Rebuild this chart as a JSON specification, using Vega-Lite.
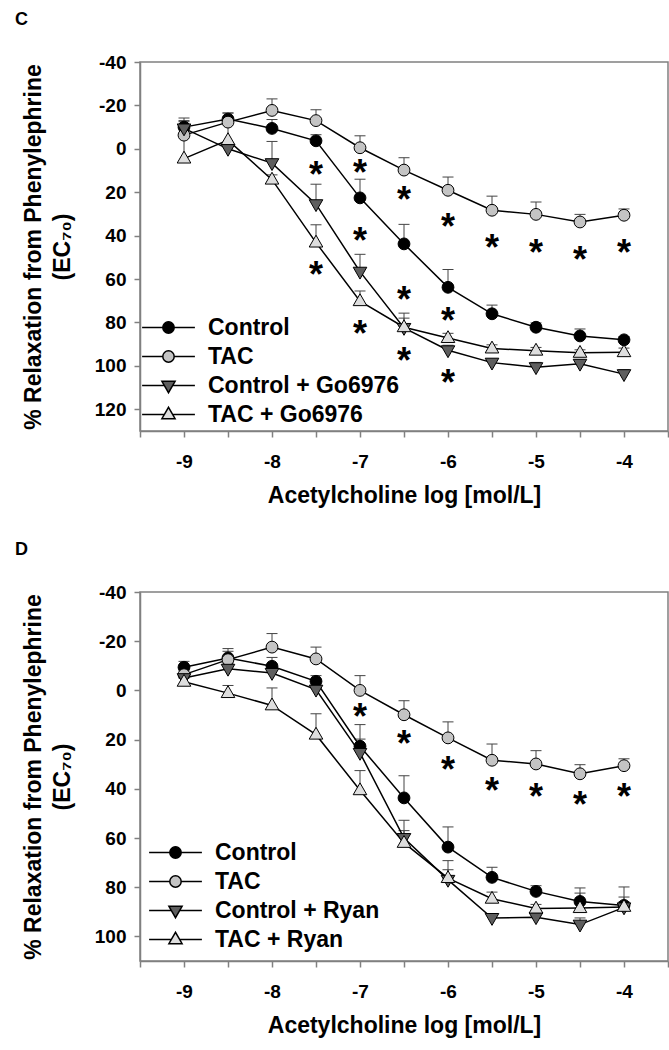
{
  "$schema": "https://vega.github.io/schema/vega-lite/v6.json",
  "padding": {"left": 14, "top": 10, "right": 0, "bottom": 0},
  "spacing": 32,
  "background": "white",
  "resolve": {
    "scale": {"shape": "independent", "fill": "independent", "stroke": "independent"},
    "legend": {"shape": "independent", "fill": "independent", "stroke": "independent"}
  },
  "datasets": {
    "c": [
      {"series": "Control", "x": -9, "y": -10, "err": -12.5},
      {"series": "Control", "x": -8.5, "y": -13.7, "err": -16.5},
      {"series": "Control", "x": -8, "y": -9.4, "err": -13.5},
      {"series": "Control", "x": -7.5, "y": -3.7, "err": -6.5},
      {"series": "Control", "x": -7, "y": 22.6, "err": 14},
      {"series": "Control", "x": -6.5, "y": 43.8, "err": 34.8},
      {"series": "Control", "x": -6, "y": 63.8, "err": 55.6},
      {"series": "Control", "x": -5.5, "y": 76, "err": 72},
      {"series": "Control", "x": -5, "y": 82.2, "err": 80.2},
      {"series": "Control", "x": -4.5, "y": 86.2, "err": 83},
      {"series": "Control", "x": -4, "y": 88, "err": 86.5},
      {"series": "TAC", "x": -9, "y": -6.3, "err": -9.5},
      {"series": "TAC", "x": -8.5, "y": -12.3, "err": -16.5},
      {"series": "TAC", "x": -8, "y": -17.7, "err": -23},
      {"series": "TAC", "x": -7.5, "y": -13, "err": -18},
      {"series": "TAC", "x": -7, "y": -0.5, "err": -6},
      {"series": "TAC", "x": -6.5, "y": 9.8, "err": 4.1},
      {"series": "TAC", "x": -6, "y": 19.1, "err": 13},
      {"series": "TAC", "x": -5.5, "y": 28.3, "err": 21.8},
      {"series": "TAC", "x": -5, "y": 30.2, "err": 24.5},
      {"series": "TAC", "x": -4.5, "y": 33.7, "err": 30.2},
      {"series": "TAC", "x": -4, "y": 30.6, "err": 27.7},
      {"series": "Control + Go6976", "x": -9, "y": -9.4, "err": -14.2},
      {"series": "Control + Go6976", "x": -8.5, "y": 0, "err": -1.5},
      {"series": "Control + Go6976", "x": -8, "y": 6.6, "err": -3.4},
      {"series": "Control + Go6976", "x": -7.5, "y": 25.5, "err": 16.3},
      {"series": "Control + Go6976", "x": -7, "y": 56.6, "err": 48.6},
      {"series": "Control + Go6976", "x": -6.5, "y": 82.5, "err": 78},
      {"series": "Control + Go6976", "x": -6, "y": 92.8, "err": 90.5},
      {"series": "Control + Go6976", "x": -5.5, "y": 98.5, "err": 96.9},
      {"series": "Control + Go6976", "x": -5, "y": 100.6, "err": 98.4},
      {"series": "Control + Go6976", "x": -4.5, "y": 99, "err": 97.2},
      {"series": "Control + Go6976", "x": -4, "y": 103.8, "err": 101.8},
      {"series": "TAC + Go6976", "x": -9, "y": 4.5, "err": -13},
      {"series": "TAC + Go6976", "x": -8.5, "y": -4, "err": -12},
      {"series": "TAC + Go6976", "x": -8, "y": 14.2, "err": 12},
      {"series": "TAC + Go6976", "x": -7.5, "y": 43.2, "err": 35},
      {"series": "TAC + Go6976", "x": -7, "y": 70.2, "err": 65.5},
      {"series": "TAC + Go6976", "x": -6.5, "y": 82.2, "err": 75.7},
      {"series": "TAC + Go6976", "x": -6, "y": 87.2, "err": 85},
      {"series": "TAC + Go6976", "x": -5.5, "y": 92, "err": 90.3},
      {"series": "TAC + Go6976", "x": -5, "y": 93, "err": 91.5},
      {"series": "TAC + Go6976", "x": -4.5, "y": 94, "err": 92.6},
      {"series": "TAC + Go6976", "x": -4, "y": 93.7, "err": 91.8}
    ],
    "cstar": [
      {"x": -7.5, "y": 10}, {"x": -7.5, "y": 56.4},
      {"x": -7, "y": 9.2}, {"x": -7, "y": 40.7}, {"x": -7, "y": 83.3},
      {"x": -6.5, "y": 21.8}, {"x": -6.5, "y": 67.7}, {"x": -6.5, "y": 95.7},
      {"x": -6, "y": 34.1}, {"x": -6, "y": 77.7}, {"x": -6, "y": 106},
      {"x": -5.5, "y": 43.8}, {"x": -5, "y": 46}, {"x": -4.5, "y": 49.5}, {"x": -4, "y": 46}
    ],
    "d": [
      {"series": "Control", "x": -9, "y": -9.4, "err": -11.8},
      {"series": "Control", "x": -8.5, "y": -13.2, "err": -15.9},
      {"series": "Control", "x": -8, "y": -9.8, "err": -13.4},
      {"series": "Control", "x": -7.5, "y": -3.7, "err": -6},
      {"series": "Control", "x": -7, "y": 22.7, "err": 13.9},
      {"series": "Control", "x": -6.5, "y": 43.7, "err": 34.7},
      {"series": "Control", "x": -6, "y": 63.7, "err": 55.5},
      {"series": "Control", "x": -5.5, "y": 76, "err": 71.9},
      {"series": "Control", "x": -5, "y": 81.7, "err": 79.4},
      {"series": "Control", "x": -4.5, "y": 85.8, "err": 80.3},
      {"series": "Control", "x": -4, "y": 87.4, "err": 79.9},
      {"series": "TAC", "x": -9, "y": -6.4, "err": -9},
      {"series": "TAC", "x": -8.5, "y": -12.5, "err": -17},
      {"series": "TAC", "x": -8, "y": -17.6, "err": -23.1},
      {"series": "TAC", "x": -7.5, "y": -12.8, "err": -17.6},
      {"series": "TAC", "x": -7, "y": 0, "err": -6},
      {"series": "TAC", "x": -6.5, "y": 9.9, "err": 4.2},
      {"series": "TAC", "x": -6, "y": 19.3, "err": 12.8},
      {"series": "TAC", "x": -5.5, "y": 28.4, "err": 21.8},
      {"series": "TAC", "x": -5, "y": 29.9, "err": 24.5},
      {"series": "TAC", "x": -4.5, "y": 33.9, "err": 30.2},
      {"series": "TAC", "x": -4, "y": 30.6, "err": 27.8},
      {"series": "Control + Ryan", "x": -9, "y": -5, "err": -7},
      {"series": "Control + Ryan", "x": -8.5, "y": -8.8, "err": -11},
      {"series": "Control + Ryan", "x": -8, "y": -7.1, "err": -9.5},
      {"series": "Control + Ryan", "x": -7.5, "y": -0.3, "err": -2},
      {"series": "Control + Ryan", "x": -7, "y": 25.4, "err": 19.8},
      {"series": "Control + Ryan", "x": -6.5, "y": 60, "err": 52.8},
      {"series": "Control + Ryan", "x": -6, "y": 77, "err": 72.9},
      {"series": "Control + Ryan", "x": -5.5, "y": 92.5, "err": 91},
      {"series": "Control + Ryan", "x": -5, "y": 92.2, "err": 90.5},
      {"series": "Control + Ryan", "x": -4.5, "y": 95.2, "err": 92.5},
      {"series": "Control + Ryan", "x": -4, "y": 88.2, "err": 86},
      {"series": "TAC + Ryan", "x": -9, "y": -3.5, "err": -5},
      {"series": "TAC + Ryan", "x": -8.5, "y": 1.1, "err": -2},
      {"series": "TAC + Ryan", "x": -8, "y": 6.1, "err": -1},
      {"series": "TAC + Ryan", "x": -7.5, "y": 18, "err": 9.5},
      {"series": "TAC + Ryan", "x": -7, "y": 40.6, "err": 32.6},
      {"series": "TAC + Ryan", "x": -6.5, "y": 62, "err": 57},
      {"series": "TAC + Ryan", "x": -6, "y": 76.3, "err": 69.2},
      {"series": "TAC + Ryan", "x": -5.5, "y": 84.7, "err": 82},
      {"series": "TAC + Ryan", "x": -5, "y": 88.7, "err": 87},
      {"series": "TAC + Ryan", "x": -4.5, "y": 88.5, "err": 82.4},
      {"series": "TAC + Ryan", "x": -4, "y": 88, "err": 84}
    ],
    "dstar": [
      {"x": -7, "y": 9.2}, {"x": -6.5, "y": 20.3}, {"x": -6, "y": 30.9},
      {"x": -5.5, "y": 39.4}, {"x": -5, "y": 41.7}, {"x": -4.5, "y": 44.8}, {"x": -4, "y": 41.7}
    ]
  },
  "config": {
    "font": "Liberation Sans",
    "view": {"stroke": "#808080", "strokeWidth": 1.5},
    "axis": {
      "domainColor": "#808080", "domainWidth": 1.5,
      "tickColor": "#808080", "tickWidth": 1.5, "tickSize": 6,
      "grid": false, "labelFlush": false, "labelOverlap": false,
      "labelFont": "Liberation Sans", "labelFontSize": 19, "labelFontWeight": "bold", "labelColor": "black",
      "titleFont": "Liberation Sans", "titleFontSize": 23, "titleFontWeight": "bold", "titleColor": "black"
    },
    "legend": {"symbolStrokeColor": "black", "symbolStrokeWidth": 1.5}
  },
  "vconcat": [
    {
      "title": {"text": "C", "anchor": "start", "frame": "group", "dx": -125, "offset": 10, "fontSize": 18, "fontWeight": "bold", "font": "Liberation Sans", "baseline": "alphabetic", "color": "black"},
      "width": 528,
      "height": 369,
      "encoding": {
        "x": {"field": "x", "type": "quantitative",
          "scale": {"domain": [-9.5, -3.5], "nice": false, "zero": false},
          "axis": {"values": [-9.5, -9, -8.5, -8, -7.5, -7, -6.5, -6, -5.5, -5, -4.5, -4, -3.5],
            "labelExpr": "datum.value % 1 === 0 ? '-' + abs(datum.value) : ''",
            "labelPadding": 15, "title": "Acetylcholine log [mol/L]", "titlePadding": 13}},
        "y": {"field": "y", "type": "quantitative",
          "scale": {"domain": [-40, 130], "reverse": true, "nice": false, "zero": false},
          "axis": {"values": [-40, -20, 0, 20, 40, 60, 80, 100, 120],
            "labelExpr": "datum.value < 0 ? '-' + abs(datum.value) : '' + datum.value",
            "labelPadding": 8, "title": ["% Relaxation from Phenylephrine", "(EC₇₀)"], "titlePadding": 20, "titleLineHeight": 29}}
      },
      "layer": [
        {"data": {"name": "c"}, "mark": {"type": "rule", "color": "#444444", "strokeWidth": 1}, "encoding": {"y2": {"field": "err"}}},
        {"data": {"name": "c"}, "mark": {"type": "point", "shape": "stroke", "size": 121, "stroke": "#444444", "strokeWidth": 1, "filled": false, "opacity": 1},
          "encoding": {"y": {"field": "err", "type": "quantitative",
            "scale": {"domain": [-40, 130], "reverse": true, "nice": false, "zero": false},
            "axis": {"values": [-40, -20, 0, 20, 40, 60, 80, 100, 120],
              "labelExpr": "datum.value < 0 ? '-' + abs(datum.value) : '' + datum.value",
              "labelPadding": 8, "title": ["% Relaxation from Phenylephrine", "(EC₇₀)"], "titlePadding": 20, "titleLineHeight": 29}}}},
        {"data": {"name": "c"}, "mark": {"type": "line", "color": "black", "strokeWidth": 1.5}, "encoding": {"detail": {"field": "series", "type": "nominal"}}},
        {"data": {"name": "cstar"}, "mark": {"type": "text", "text": "*", "font": "Liberation Sans", "fontSize": 36, "fontWeight": "bold", "color": "black", "baseline": "alphabetic", "align": "center", "dy": 16}},
        {"data": {"name": "c"}, "transform": [{"filter": "datum.series === 'Control'"}],
          "mark": {"type": "point", "shape": "circle", "filled": true, "fill": "#000000", "size": 140, "stroke": "black", "strokeWidth": 1, "opacity": 1}},
        {"data": {"name": "c"}, "transform": [{"filter": "datum.series === 'TAC'"}],
          "mark": {"type": "point", "shape": "circle", "filled": true, "fill": "#c4c4c4", "size": 140, "stroke": "black", "strokeWidth": 1, "opacity": 1}},
        {"data": {"name": "c"}, "transform": [{"filter": "datum.series === 'Control + Go6976'"}],
          "mark": {"type": "point", "shape": "M-1.15,-0.75L1.15,-0.75L0,1.25Z", "filled": true, "fill": "#5e5e5e", "size": 140, "stroke": "black", "strokeWidth": 1, "opacity": 1}},
        {"data": {"name": "c"}, "transform": [{"filter": "datum.series === 'TAC + Go6976'"}],
          "mark": {"type": "point", "shape": "M-1.15,0.75L1.15,0.75L0,-1.25Z", "filled": true, "fill": "#dedede", "size": 140, "stroke": "black", "strokeWidth": 1, "opacity": 1}},
        {"data": {"name": "c"}, "transform": [{"filter": "false"}],
          "mark": {"type": "point", "filled": true, "stroke": "black", "strokeWidth": 1.5, "opacity": 1},
          "encoding": {
            "shape": {"field": "series", "type": "nominal",
              "scale": {"domain": ["Control", "TAC", "Control + Go6976", "TAC + Go6976"],
                "range": [
                  "M-4.4,0L-0.95,0M0.95,0L4.4,0M0.95,0A0.95,0.95,0,1,1,-0.95,0A0.95,0.95,0,1,1,0.95,0Z",
                  "M-4.4,0L-0.95,0M0.95,0L4.4,0M0.95,0A0.95,0.95,0,1,1,-0.95,0A0.95,0.95,0,1,1,0.95,0Z",
                  "M-4.4,0L-0.69,0M0.69,0L4.4,0M-1.1,-0.7L1.1,-0.7L0,1.2Z",
                  "M-4.4,0L-0.69,0M0.69,0L4.4,0M-1.1,0.7L1.1,0.7L0,-1.2Z"]},
              "legend": {"orient": "none", "legendX": 17, "legendY": 254, "title": null, "symbolSize": 144,
                "labelFontSize": 23, "labelFontWeight": "bold", "labelFont": "Liberation Sans", "labelColor": "black",
                "labelOffset": 28, "rowPadding": 5, "symbolStrokeWidth": 1.5, "symbolStrokeColor": "black", "labelLimit": 0, "padding": 0}},
            "fill": {"field": "series", "type": "nominal",
              "scale": {"domain": ["Control", "TAC", "Control + Go6976", "TAC + Go6976"],
                "range": ["#000000", "#c4c4c4", "#5e5e5e", "#dedede"]},
              "legend": {"orient": "none", "legendX": 17, "legendY": 254, "title": null, "symbolSize": 144,
                "labelFontSize": 23, "labelFontWeight": "bold", "labelFont": "Liberation Sans", "labelColor": "black",
                "labelOffset": 28, "rowPadding": 5, "symbolStrokeWidth": 1.5, "symbolStrokeColor": "black", "labelLimit": 0, "padding": 0}},
            "stroke": {"field": "series", "type": "nominal",
              "scale": {"domain": ["Control", "TAC", "Control + Go6976", "TAC + Go6976"],
                "range": ["#000000", "#000000", "#000000", "#000000"]},
              "legend": {"orient": "none", "legendX": 17, "legendY": 254, "title": null, "symbolSize": 144,
                "labelFontSize": 23, "labelFontWeight": "bold", "labelFont": "Liberation Sans", "labelColor": "black",
                "labelOffset": 28, "rowPadding": 5, "symbolStrokeWidth": 1.5, "symbolStrokeColor": "black", "labelLimit": 0, "padding": 0}}
          }}
      ]
    },
    {
      "title": {"text": "D", "anchor": "start", "frame": "group", "dx": -125, "offset": 10, "fontSize": 18, "fontWeight": "bold", "font": "Liberation Sans", "baseline": "alphabetic", "color": "black"},
      "width": 528,
      "height": 369,
      "encoding": {
        "x": {"field": "x", "type": "quantitative",
          "scale": {"domain": [-9.5, -3.5], "nice": false, "zero": false},
          "axis": {"values": [-9.5, -9, -8.5, -8, -7.5, -7, -6.5, -6, -5.5, -5, -4.5, -4, -3.5],
            "labelExpr": "datum.value % 1 === 0 ? '-' + abs(datum.value) : ''",
            "labelPadding": 15, "title": "Acetylcholine log [mol/L]", "titlePadding": 13}},
        "y": {"field": "y", "type": "quantitative",
          "scale": {"domain": [-40, 110], "reverse": true, "nice": false, "zero": false},
          "axis": {"values": [-40, -20, 0, 20, 40, 60, 80, 100],
            "labelExpr": "datum.value < 0 ? '-' + abs(datum.value) : '' + datum.value",
            "labelPadding": 8, "title": ["% Relaxation from Phenylephrine", "(EC₇₀)"], "titlePadding": 20, "titleLineHeight": 29}}
      },
      "layer": [
        {"data": {"name": "d"}, "mark": {"type": "rule", "color": "#444444", "strokeWidth": 1}, "encoding": {"y2": {"field": "err"}}},
        {"data": {"name": "d"}, "mark": {"type": "point", "shape": "stroke", "size": 121, "stroke": "#444444", "strokeWidth": 1, "filled": false, "opacity": 1},
          "encoding": {"y": {"field": "err", "type": "quantitative",
            "scale": {"domain": [-40, 110], "reverse": true, "nice": false, "zero": false},
            "axis": {"values": [-40, -20, 0, 20, 40, 60, 80, 100],
              "labelExpr": "datum.value < 0 ? '-' + abs(datum.value) : '' + datum.value",
              "labelPadding": 8, "title": ["% Relaxation from Phenylephrine", "(EC₇₀)"], "titlePadding": 20, "titleLineHeight": 29}}}},
        {"data": {"name": "d"}, "mark": {"type": "line", "color": "black", "strokeWidth": 1.5}, "encoding": {"detail": {"field": "series", "type": "nominal"}}},
        {"data": {"name": "dstar"}, "mark": {"type": "text", "text": "*", "font": "Liberation Sans", "fontSize": 36, "fontWeight": "bold", "color": "black", "baseline": "alphabetic", "align": "center", "dy": 16}},
        {"data": {"name": "d"}, "transform": [{"filter": "datum.series === 'Control'"}],
          "mark": {"type": "point", "shape": "circle", "filled": true, "fill": "#000000", "size": 140, "stroke": "black", "strokeWidth": 1, "opacity": 1}},
        {"data": {"name": "d"}, "transform": [{"filter": "datum.series === 'TAC'"}],
          "mark": {"type": "point", "shape": "circle", "filled": true, "fill": "#c4c4c4", "size": 140, "stroke": "black", "strokeWidth": 1, "opacity": 1}},
        {"data": {"name": "d"}, "transform": [{"filter": "datum.series === 'Control + Ryan'"}],
          "mark": {"type": "point", "shape": "M-1.15,-0.75L1.15,-0.75L0,1.25Z", "filled": true, "fill": "#5e5e5e", "size": 140, "stroke": "black", "strokeWidth": 1, "opacity": 1}},
        {"data": {"name": "d"}, "transform": [{"filter": "datum.series === 'TAC + Ryan'"}],
          "mark": {"type": "point", "shape": "M-1.15,0.75L1.15,0.75L0,-1.25Z", "filled": true, "fill": "#dedede", "size": 140, "stroke": "black", "strokeWidth": 1, "opacity": 1}},
        {"data": {"name": "d"}, "transform": [{"filter": "false"}],
          "mark": {"type": "point", "filled": true, "stroke": "black", "strokeWidth": 1.5, "opacity": 1},
          "encoding": {
            "shape": {"field": "series", "type": "nominal",
              "scale": {"domain": ["Control", "TAC", "Control + Ryan", "TAC + Ryan"],
                "range": [
                  "M-4.4,0L-0.95,0M0.95,0L4.4,0M0.95,0A0.95,0.95,0,1,1,-0.95,0A0.95,0.95,0,1,1,0.95,0Z",
                  "M-4.4,0L-0.95,0M0.95,0L4.4,0M0.95,0A0.95,0.95,0,1,1,-0.95,0A0.95,0.95,0,1,1,0.95,0Z",
                  "M-4.4,0L-0.69,0M0.69,0L4.4,0M-1.1,-0.7L1.1,-0.7L0,1.2Z",
                  "M-4.4,0L-0.69,0M0.69,0L4.4,0M-1.1,0.7L1.1,0.7L0,-1.2Z"]},
              "legend": {"orient": "none", "legendX": 24, "legendY": 249, "title": null, "symbolSize": 144,
                "labelFontSize": 23, "labelFontWeight": "bold", "labelFont": "Liberation Sans", "labelColor": "black",
                "labelOffset": 28, "rowPadding": 5, "symbolStrokeWidth": 1.5, "symbolStrokeColor": "black", "labelLimit": 0, "padding": 0}},
            "fill": {"field": "series", "type": "nominal",
              "scale": {"domain": ["Control", "TAC", "Control + Ryan", "TAC + Ryan"],
                "range": ["#000000", "#c4c4c4", "#5e5e5e", "#dedede"]},
              "legend": {"orient": "none", "legendX": 24, "legendY": 249, "title": null, "symbolSize": 144,
                "labelFontSize": 23, "labelFontWeight": "bold", "labelFont": "Liberation Sans", "labelColor": "black",
                "labelOffset": 28, "rowPadding": 5, "symbolStrokeWidth": 1.5, "symbolStrokeColor": "black", "labelLimit": 0, "padding": 0}},
            "stroke": {"field": "series", "type": "nominal",
              "scale": {"domain": ["Control", "TAC", "Control + Ryan", "TAC + Ryan"],
                "range": ["#000000", "#000000", "#000000", "#000000"]},
              "legend": {"orient": "none", "legendX": 24, "legendY": 249, "title": null, "symbolSize": 144,
                "labelFontSize": 23, "labelFontWeight": "bold", "labelFont": "Liberation Sans", "labelColor": "black",
                "labelOffset": 28, "rowPadding": 5, "symbolStrokeWidth": 1.5, "symbolStrokeColor": "black", "labelLimit": 0, "padding": 0}}
          }}
      ]
    }
  ]
}
